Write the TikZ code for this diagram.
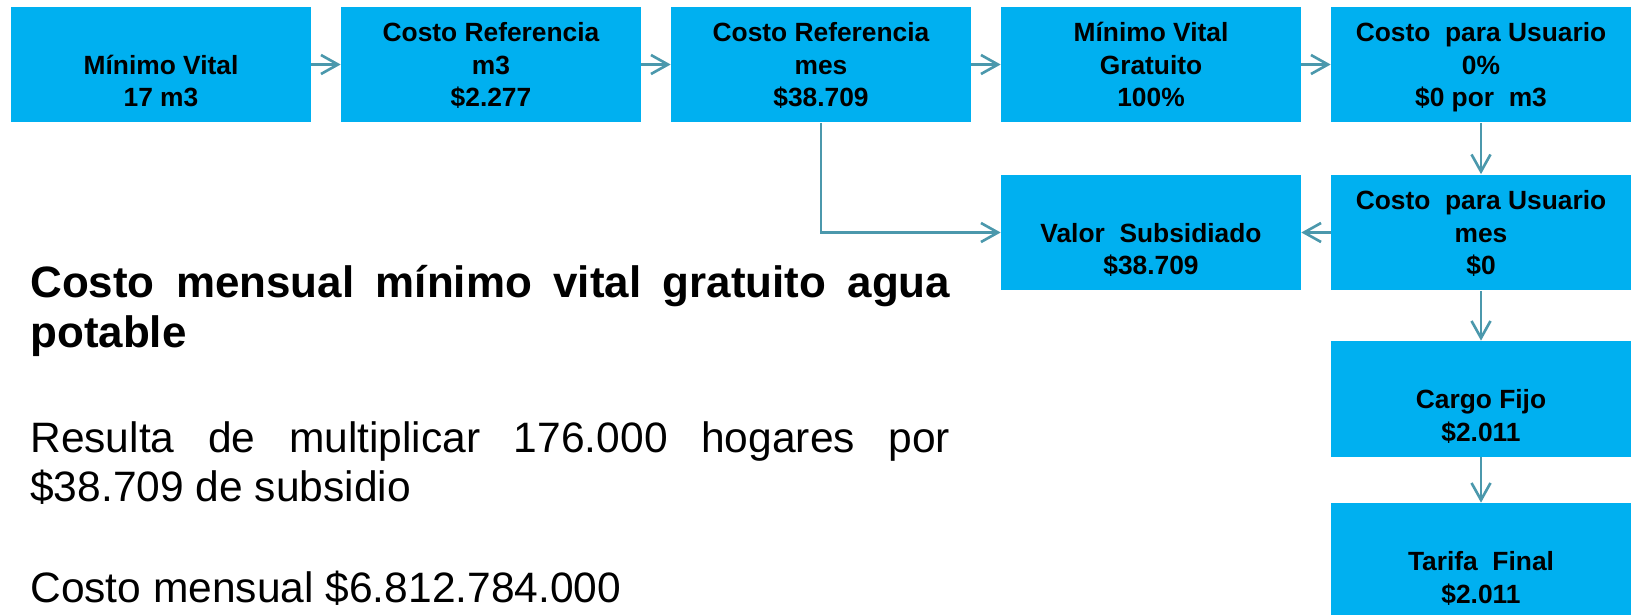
\documentclass[tikz,border=0pt]{standalone}
\usepackage{fontspec}
\setmainfont{Liberation Sans}
\usepackage{tikz}
\usetikzlibrary{arrows.meta}

\definecolor{azulcaja}{HTML}{00B0F0}
\definecolor{azulflecha}{RGB}{75,152,172}
\newcommand{\lineaalta}{\rule{0pt}{16.4pt}}

\tikzset{
  caja/.style={fill=azulcaja, draw=none, minimum width=6cm, minimum height=2.32cm,
    inner sep=0pt, align=center, font=\fontsize{15}{18.5}\selectfont\bfseries},
  flecha/.style={draw=azulflecha, line width=1.5pt,
    -{Straight Barb[length=0.34cm, width=0.38cm]}},
  parrafo/.style={anchor=base west, inner sep=0pt, text width=18.4cm, align=justify}
}

\begin{document}
\begin{tikzpicture}[x=0.02cm, y=-0.02cm]
    \useasboundingbox (0,0) rectangle (1633,615);
    % fila de arriba
    \node[caja] (minimo) at (161,64.5) {\lineaalta\\M\'inimo Vital\\17 m3\strut};
    \node[caja] (refm3) at (491,64.5) {\lineaalta Costo Referencia\\m3\\\$2.277\strut};
    \node[caja] (refmes) at (821,64.5) {\lineaalta Costo Referencia\\mes\\\$38.709\strut};
    \node[caja] (gratuito) at (1151,64.5) {\lineaalta M\'inimo Vital\\Gratuito\\100\%\strut};
    \node[caja] (usuariom3) at (1481,64.5) {\lineaalta Costo~ para Usuario\\0\%\\\$0 por~ m3\strut};
    % columna derecha
    \node[caja] (valor) at (1151,232.5) {\lineaalta\\Valor~ Subsidiado\\\$38.709\strut};
    \node[caja] (usuariomes) at (1481,232.5) {\lineaalta Costo~ para Usuario\\mes\\\$0\strut};
    \node[caja] (cargo) at (1481,399) {\lineaalta\\Cargo Fijo\\\$2.011\strut};
    \node[caja] (tarifa) at (1481,561) {\lineaalta\\Tarifa~ Final\\\$2.011\strut};
    \foreach \a/\b in {minimo/refm3, refm3/refmes, refmes/gratuito, gratuito/usuariom3}
    \draw[flecha] (\a) -- (\b);
    \foreach \a/\b in {usuariom3/usuariomes, usuariomes/cargo, cargo/tarifa}
    \draw[flecha] (\a) -- (\b);
    \draw[flecha] (usuariomes) -- (valor);
    \draw[flecha] (refmes.south) |- (valor.west);
    % texto de la izquierda
    \node[parrafo, font=\fontsize{25}{28.7}\selectfont\bfseries] (titulo) at (30,297)
      {Costo mensual m\'inimo vital gratuito agua potable};
    \node[parrafo, font=\fontsize{24.2}{28.2}\selectfont] (resulta) at (30,452)
      {Resulta de multiplicar 176.000 hogares por \$38.709 de subsidio};
    \node[parrafo, font=\fontsize{24.2}{28.2}\selectfont] (mensual) at (30,602)
      {Costo mensual \$6.812.784.000};
\end{tikzpicture}
\end{document}
